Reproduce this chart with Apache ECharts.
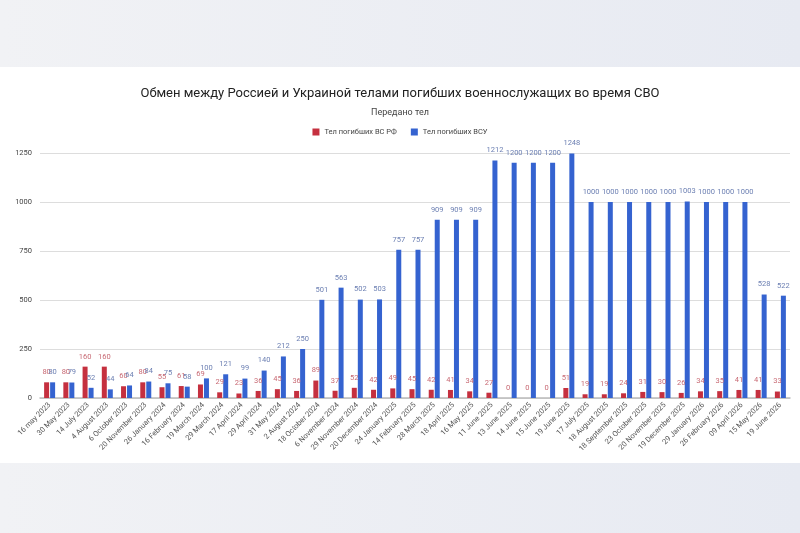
<!DOCTYPE html>
<html>
  <head>
    <meta charset="utf-8" />
    <title>Обмен телами погибших</title>
    <script src="https://cdn.jsdelivr.net/npm/echarts@6/dist/echarts.min.js"></script>
    <style>
      * {
        padding: 0;
        margin: 0;
      }
      body {
        width: 800px;
        height: 533px;
        background: linear-gradient(90deg, #f1f2f5, #e7eaf2);
        overflow: hidden;
      }
      #chart-panel {
        position: absolute;
        left: 0;
        top: 67px;
        width: 800px;
        height: 396px;
        background: #fff;
      }
    </style>
  </head>
  <body>
    <div id="chart-panel"></div>
    <script type="text/javascript">
      var myChart = echarts.init(document.getElementById("chart-panel"));

      // даты обменов
      const dates = [
        "16 may 2023", "30 May 2023", "14 July 2023", "4 August 2023",
        "6 October 2023", "20 November 2023", "26 January 2024",
        "16 February 2024", "19 March 2024", "29 March 2024", "17 April 2024",
        "29 April 2024", "31 May 2024", "2 August 2024", "18 October 2024",
        "6 November 2024", "29 November 2024", "20 December 2024",
        "24 January 2025", "14 February 2025", "28 March 2025",
        "18 April 2025", "16 May 2025", "11 June 2025", "13 June 2025",
        "14 June 2025", "15 June 2025", "19 June 2025", "17 July 2025",
        "18 August 2025", "18 September 2025", "23 October 2025",
        "20 November 2025", "19 December 2025", "29 January 2026",
        "26 February 2026", "09 April 2026", "15 May 2026", "19 June 2026",
      ];

      // Тел погибших ВС РФ
      const rfBodies = [
        80, 80, 160, 160, 60, 80, 55, 61, 69, 29, 23, 36, 45, 36, 89, 37, 52,
        42, 49, 45, 42, 41, 34, 27, 0, 0, 0, 51, 19, 19, 24, 31, 30, 26, 34,
        35, 41, 41, 33,
      ];

      // Тел погибших ВСУ
      const uaBodies = [
        80, 79, 52, 44, 64, 84, 75, 58, 100, 121, 99, 140, 212, 250, 501, 563,
        502, 503, 757, 757, 909, 909, 909, 1212, 1200, 1200, 1200, 1248, 1000,
        1000, 1000, 1000, 1000, 1003, 1000, 1000, 1000, 528, 522,
      ];

      const yTicks = [0, 250, 500, 750, 1000, 1250];

      var option = {
        textStyle: { fontFamily: "Roboto" },
        title: [
          {
            text: "Обмен между Россией и Украиной телами погибших военнослужащих во время СВО",
            left: "center",
            top: 15,
            textStyle: { fontSize: 13, fontWeight: "normal", color: "#222" },
          },
          {
            text: "Передано тел",
            left: "center",
            top: 36,
            textStyle: { fontSize: 9, fontWeight: "normal", color: "#444" },
          },
        ],
        legend: {
          top: 56,
          left: "center",
          itemWidth: 7,
          itemHeight: 7,
          itemGap: 14,
          icon: "rect",
          textStyle: { fontSize: 7.5, color: "#444" },
        },
        grid: {
          left: 40,
          right: 10,
          top: 86,
          bottom: 65,
        },
        xAxis: {
          type: "category",
          data: dates,
          axisTick: { show: false },
          axisLine: { lineStyle: { color: "#bbb", width: 1.5 } },
          axisLabel: {
            interval: 0,
            rotate: 45,
            fontSize: 7.5,
            color: "#555",
            margin: 6,
          },
        },
        yAxis: {
          type: "value",
          min: yTicks[0],
          max: yTicks[yTicks.length - 1],
          interval: 250,
          axisLabel: {
            fontSize: 7.5,
            color: "#444",
            margin: 8,
            formatter: function (v) {
              return String(v);
            },
          },
          splitLine: { lineStyle: { color: "#ddd" } },
        },
        series: [
          {
            name: "Тел погибших ВС РФ",
            type: "bar",
            data: rfBodies,
            barWidth: 5,
            barGap: "20%",
            itemStyle: { color: "#c5303f" },
            label: {
              show: true,
              position: "top",
              distance: 6,
              fontSize: 7.5,
              color: "#c86a74",
            },
          },
          {
            name: "Тел погибших ВСУ",
            type: "bar",
            data: uaBodies,
            barWidth: 5,
            itemStyle: { color: "#3563d0" },
            label: {
              show: true,
              position: "top",
              distance: 6,
              fontSize: 7.5,
              color: "#6d80b3",
            },
          },
        ],
      };

      myChart.setOption(option);
    </script>
  </body>
</html>
